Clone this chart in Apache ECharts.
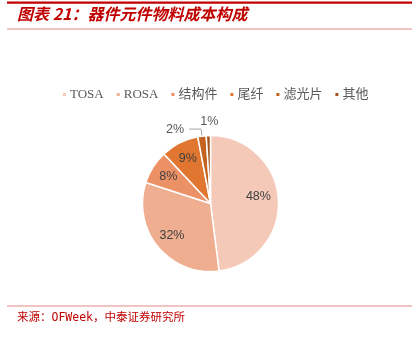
<!DOCTYPE html>
<html><head><meta charset="utf-8">
<script src="https://cdn.jsdelivr.net/npm/echarts@6/dist/echarts.min.js"></script>
<style>html,body{margin:0;padding:0;background:#fff}#c{width:416px;height:337px}</style>
</head><body><div id="c"></div>
<script>
const categories = ['TOSA', 'ROSA', '结构件', '尾纤', '滤光片', '其他'];
const values = [48, 32, 8, 9, 2, 1];
const colors = ['#F5C9B8', '#F0AE90', '#EC9066', '#E0762F', '#C4621F', '#A4531C'];

const chart = echarts.init(document.getElementById('c'));
const labelFont = { fontSize: 12.5, color: '#404040', fontFamily: 'Liberation Sans' };

const mainData = categories.map((n, i) => {
  const d = { name: n, value: values[i], itemStyle: { color: colors[i] } };
  if (i === 4) {
    d.label = { show: true, position: 'outside', formatter: '{c}%', color: '#595959', fontSize: 12.5, fontFamily: 'Liberation Sans' };
    d.labelLine = { show: true, length: 7, length2: 12 };
  }
  if (i === 5) {
    d.label = { show: true, position: 'outside', formatter: '{c}%', color: '#595959', fontSize: 12.5, fontFamily: 'Liberation Sans' };
    d.labelLine = { show: false, length: 2, length2: 0 };
  }
  return d;
});
const ghostData = categories.map((n, i) => ({
  name: n, value: values[i],
  label: { show: i < 4 }
}));

chart.setOption({
  animation: false,
  graphic: [
    { type: 'rect', shape: { x: 7, y: 1.5, width: 405, height: 2.2 }, style: { fill: '#C00000' } },
    { type: 'text', left: 17, top: 6, style: { text: '图表 21：器件元件物料成本构成', font: 'italic bold 16px "Noto Sans CJK SC"', fill: '#C00000' } },
    { type: 'rect', shape: { x: 7, y: 28.5, width: 405, height: 1 }, style: { fill: '#E38A8A' } },
    { type: 'rect', shape: { x: 7, y: 305.5, width: 405, height: 1 }, style: { fill: '#E38A8A' } },
    { type: 'text', left: 17, top: 312, style: { text: '来源：OFWeek，中泰证券研究所', font: '11.5px "DejaVu Sans Mono", "Noto Sans CJK SC"', fill: '#C00000' } }
  ],
  legend: {
    top: 83, left: 56,
    itemWidth: 5, itemHeight: 5, itemGap: 11, icon: 'rect',
    textStyle: { fontSize: 13, color: '#595959', fontFamily: '"Liberation Serif", "Noto Sans CJK SC"', padding: [0, 0, 0, -2] },
    data: categories
  },
  series: [{
    type: 'pie',
    center: [210.5, 203.5],
    radius: [0, 68],
    startAngle: 90,
    clockwise: true,
    avoidLabelOverlap: false,
    itemStyle: { borderColor: '#fff', borderWidth: 1.5 },
    label: { show: false },
    labelLine: { lineStyle: { color: '#A6A6A6' } },
    labelLayout: function (p) {
      if (p.dataIndex === 5) return { dx: 15, dy: -12 };
      return {};
    },
    data: mainData
  }, {
    type: 'pie',
    silent: true,
    center: [210.5, 203.5],
    radius: [0, 94],
    startAngle: 90,
    clockwise: true,
    avoidLabelOverlap: false,
    itemStyle: { color: 'transparent', borderWidth: 0 },
    label: Object.assign({ position: 'inner', formatter: '{c}%' }, labelFont),
    labelLine: { show: false },
    labelLayout: function (p) {
      if (p.dataIndex === 0) return { dx: -2, dy: -4 };
      return {};
    },
    data: ghostData
  }]
});
</script></body></html>
